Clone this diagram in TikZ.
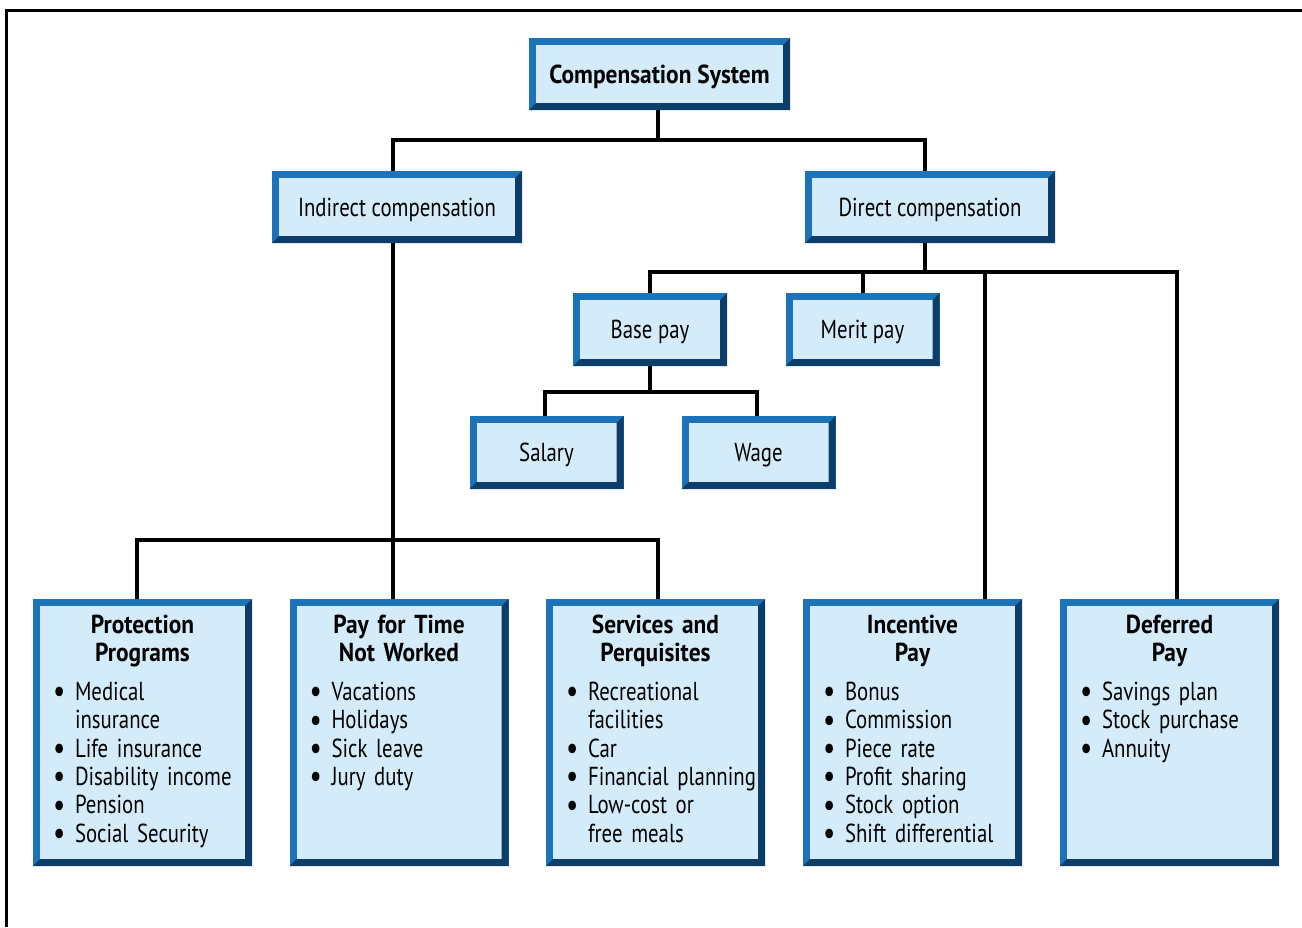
\documentclass[tikz,border=0pt]{standalone}
\usepackage{fontspec}
\setmainfont{PT Sans}[FakeStretch=0.8, BoldFeatures={FakeStretch=0.9}]
\usetikzlibrary{calc}

\definecolor{boxblue}{HTML}{1C73B9}
\definecolor{boxnavy}{HTML}{0C3E69}
\definecolor{boxfill}{HTML}{D4ECFA}

% one bullet line inside a bottom box
\newcommand{\bul}[1]{\hyphenpenalty=10000\hangindent=17.25pt\hangafter=1\noindent\hspace*{6.25pt}\makebox[11pt][l]{\raisebox{-1.2pt}{\fontsize{17}{14}\selectfont\textbullet}}#1\par}
\newcommand{\boxhead}[1]{{\centering\bfseries #1\par}\vspace{5pt}}

\begin{document}
\begin{tikzpicture}[x=0.5pt, y=-0.5pt]
\tikzset{
box/.style={
draw = boxblue,
fill = boxfill,
line width = 3.5pt,
inner sep = 0pt,
text height = 9pt,
text depth = 0pt,
font = \fontsize{13}{14}\selectfont},
wide/.style={box, minimum width = 121.5pt, minimum height = 32.5pt},
small/.style={box, minimum width = 73.5pt, minimum height = 33pt},
tall/.style={box, minimum width = 106pt, text width = 102pt, inner xsep = 2pt,
inner ysep = 4pt, align = left, text height = 11.5pt, text depth = 110.5pt,
font = \fontsize{13}{14.2}\selectfont},
link/.style={line width = 2pt, black}}
\useasboundingbox (0,0) rectangle (1302,927);
\draw[line width = 1.5pt] (6,927) -- (6,10) -- (1302,10);

% top levels
\node[box, minimum width = 127pt, minimum height = 32.5pt, font = \fontsize{13}{14}\selectfont\bfseries] (comp) at (659.5,74) {Compensation System};
\node[wide] (indirect) at (397,207) {Indirect compensation};
\node[wide] (direct) at (930,207) {Direct compensation};
\node[small] (base) at (650,329.5) {Base pay};
\node[small] (merit) at (862.5,329.5) {Merit pay};
\node[small] (salary) at (546.5,452.5) {Salary};
\node[small] (wage) at (758.5,452.5) {Wage};

% bottom row
\node[tall] (prot) at (142.5,732.5) {\boxhead{Protection\\Programs}
\bul{Medical\newline insurance}\bul{Life insurance}\bul{Disability income}\bul{Pension}\bul{Social Security}};
\node[tall] (paytime) at (399,732.5) {\boxhead{Pay for Time\\Not Worked}
\bul{Vacations}\bul{Holidays}\bul{Sick leave}\bul{Jury duty}};
\node[tall] (serv) at (655.5,732.5) {\boxhead{Services and\\Perquisites}
\bul{Recreational\newline facilities}\bul{Car}\bul{Financial planning}\bul{Low-cost or\newline free meals}};
\node[tall] (incent) at (912.5,732.5) {\boxhead{Incentive\\Pay}
\bul{Bonus}\bul{Commission}\bul{Piece rate}\bul{Profit sharing}\bul{Stock option}\bul{Shift differential}};
\node[tall] (defer) at (1169.5,732.5) {\boxhead{Deferred\\Pay}
\bul{Savings plan}\bul{Stock purchase}\bul{Annuity}};

% dark lower and right edges
\foreach \n in {comp,indirect,direct,base,merit,salary,wage,prot,paytime,serv,incent,defer}
  \fill[boxnavy] (\n.north east) -- (\n.south east) -- (\n.south west)
    -- ([shift={(3.5pt,3.5pt)}]\n.south west) -- ([shift={(-3.5pt,3.5pt)}]\n.south east)
    -- ([shift={(-3.5pt,-3.5pt)}]\n.north east) -- cycle;

% connectors
\coordinate (cbus) at ([xshift=-0.75pt, yshift=-15pt]comp.south);
\draw[link] ([xshift=-0.75pt]comp.south) -- (cbus);
\draw[link] ([xshift=-2pt]indirect.north) |- (cbus) -| ([xshift=-2.5pt]direct.north);

\coordinate (dbus) at ([xshift=-2.5pt, yshift=-14.5pt]direct.south);
\draw[link] ([xshift=-2.5pt]direct.south) -- (dbus);
\draw[link] (base.north) |- (dbus) -| ([xshift=3.75pt]defer.north);
\draw[link] (merit.north) -- (merit.north |- dbus);
\draw[link] ([xshift=36.25pt]incent.north) -- ([xshift=36.25pt]incent.north |- dbus);

\coordinate (bbus) at ([yshift=-13pt]base.south);
\draw[link] (base.south) -- (bbus);
\draw[link] ([xshift=-0.75pt]salary.north) |- (bbus) -| ([xshift=-0.75pt]wage.north);

\coordinate (ibus) at ([xshift=-2pt]indirect.south |- 0,540);
\draw[link] ([xshift=-2pt]indirect.south) -- ([xshift=-2pt]indirect.south |- paytime.north);
\draw[link] ([xshift=-2.75pt]prot.north) |- (ibus) -| ([xshift=1.25pt]serv.north);
\end{tikzpicture}
\end{document}
